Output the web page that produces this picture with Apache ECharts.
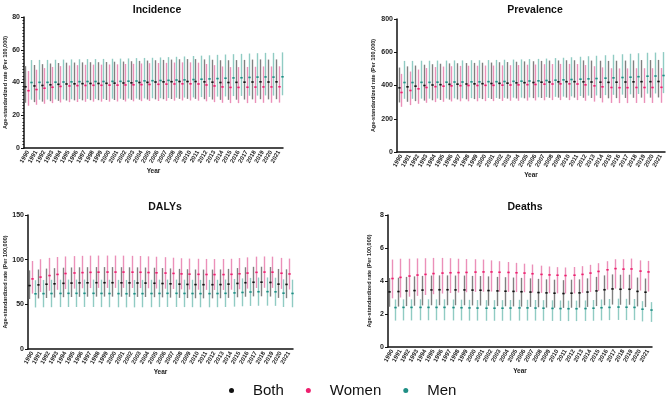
<!DOCTYPE html>
<html>
<head>
<meta charset="utf-8">
<script src="https://cdn.jsdelivr.net/npm/echarts/dist/echarts.min.js"></script>
<style>
  html, body { margin: 0; padding: 0; background: #fff; }
  #container { width: 669px; height: 396px; }
</style>
</head>
<body>
<div id="container"></div>
<script>
var years = [];
for (var y = 1990; y <= 2021; y++) years.push(String(y));

// Incidence
var incBothMean = [37.4,37.9,38.2,38.6,38.9,39.1,39.2,39.3,39.4,39.4,39.5,39.6,39.7,39.8,40.0,40.1,40.3,40.4,40.5,40.6,40.6,40.6,40.4,40.2,40.0,40.0,40.1,40.2,40.3,40.4,40.3,40.4];
var incBothHi = [50.0,50.7,51.2,51.6,51.9,52.1,52.2,52.3,52.4,52.4,52.5,52.7,52.8,53.0,53.2,53.4,53.6,53.8,54.0,54.2,54.3,54.3,54.1,53.9,53.6,53.6,53.7,53.8,54.0,54.1,54.0,54.1];
var incBothLo = [27.6,28.0,28.3,28.6,28.8,29.0,29.1,29.1,29.2,29.2,29.3,29.3,29.4,29.4,29.5,29.6,29.7,29.8,29.9,30.0,30.0,30.0,29.8,29.6,29.4,29.4,29.5,29.6,29.7,29.8,29.7,29.8];
var incWomenMean = [35.0,35.7,36.5,37.1,37.6,37.9,38.1,38.2,38.3,38.3,38.4,38.4,38.5,38.6,38.7,38.8,38.9,39.0,39.1,39.2,39.2,39.1,38.5,37.9,37.3,37.0,37.0,37.1,37.2,37.3,37.3,37.4];
var incWomenHi = [47.0,47.8,48.8,49.5,50.0,50.4,50.6,50.8,50.9,50.9,51.0,51.1,51.3,51.4,51.6,51.8,51.9,52.0,52.2,52.3,52.3,52.1,51.3,50.6,49.8,49.4,49.4,49.5,49.6,49.8,49.8,49.9];
var incWomenLo = [25.8,26.4,27.0,27.4,27.8,28.0,28.1,28.2,28.3,28.3,28.3,28.4,28.4,28.5,28.6,28.7,28.7,28.8,28.9,29.0,29.0,28.9,28.5,28.0,27.6,27.4,27.4,27.4,27.5,27.6,27.6,27.7];
var incMenMean = [40.0,40.1,40.1,40.2,40.3,40.4,40.5,40.6,40.6,40.6,40.7,40.7,40.8,40.9,41.0,41.1,41.2,41.3,41.5,41.6,41.8,42.0,42.2,42.4,42.6,42.8,42.9,43.1,43.3,43.4,43.3,43.5];
var incMenHi = [53.7,53.8,53.8,53.9,54.0,54.1,54.2,54.3,54.3,54.4,54.5,54.6,54.7,54.9,55.0,55.1,55.3,55.5,55.7,55.9,56.2,56.4,56.6,56.9,57.1,57.3,57.5,57.7,57.9,58.1,58.1,58.4];
var incMenLo = [29.5,29.5,29.6,29.7,29.7,29.8,29.9,30.0,30.0,30.0,30.1,30.1,30.2,30.2,30.3,30.4,30.4,30.5,30.7,30.8,30.9,31.1,31.2,31.4,31.5,31.7,31.8,31.9,32.0,32.1,32.0,32.2];

// Prevalence
var prvBothMean = [386,392,396,400,403,405,407,408,409,410,411,412,413,414,416,417,418,420,421,422,423,423,422,421,420,419,420,421,422,423,423,424];
var prvBothHi = [508,515,520,525,528,531,533,534,535,536,537,538,540,541,543,545,546,548,550,551,552,552,551,550,549,548,549,550,551,553,553,554];
var prvBothLo = [298,302,306,309,311,313,315,316,317,318,318,319,320,321,322,323,324,325,326,327,327,327,326,325,324,323,324,325,326,327,327,328];
var prvWomenMean = [358,370,380,388,393,396,398,399,400,400,401,401,402,403,404,405,406,408,409,410,410,409,404,398,392,388,387,387,388,388,388,389];
var prvWomenHi = [470,484,496,505,511,514,516,518,519,519,520,520,521,522,523,525,526,528,529,530,530,529,523,516,509,504,503,503,504,504,504,505];
var prvWomenLo = [272,282,290,296,300,302,304,305,305,305,306,306,307,308,308,309,310,311,312,312,312,312,308,303,298,295,294,294,295,295,295,296];
var prvMenMean = [418,418,419,419,420,420,421,421,422,422,423,423,424,425,426,427,428,430,432,434,436,438,440,442,444,446,448,450,453,456,457,460];
var prvMenHi = [548,548,549,549,550,550,551,551,552,552,553,554,555,556,557,559,560,562,565,567,570,573,576,579,582,585,588,591,594,597,598,601];
var prvMenLo = [320,320,321,321,322,322,323,323,324,324,325,325,326,327,327,328,329,330,332,333,335,337,339,340,342,344,345,347,349,351,352,354];

// DALYs
var dalBothMean = [71.0,71.8,72.5,73.0,73.5,73.8,74.0,74.1,74.2,74.2,74.2,74.1,74.0,73.9,73.8,73.6,73.3,73.0,72.6,72.3,72.1,72.0,72.0,72.1,72.6,73.4,74.2,74.7,74.8,74.5,72.6,72.3];
var dalBothHi = [88.0,89.0,90.0,90.5,91.0,91.3,91.5,91.6,91.7,91.7,91.7,91.6,91.5,91.4,91.2,91.0,90.6,90.2,89.7,89.3,89.0,88.9,88.9,89.1,89.7,90.6,91.5,92.0,92.1,91.8,89.6,89.2];
var dalBothLo = [56.0,56.6,57.1,57.6,58.0,58.2,58.4,58.5,58.6,58.6,58.6,58.5,58.4,58.3,58.2,58.0,57.8,57.5,57.2,57.0,56.8,56.7,56.7,56.8,57.2,57.9,58.5,58.9,59.0,58.7,57.2,56.9];
var dalWomenMean = [78.5,80.5,82.2,83.5,84.5,85.1,85.5,85.8,86.0,86.1,86.1,86.1,86.0,85.9,85.6,85.3,85.0,84.6,84.1,83.8,83.6,83.4,83.3,83.3,83.6,84.2,85.0,85.8,86.1,86.0,84.8,84.0];
var dalWomenHi = [98.5,100.5,102.0,103.0,103.6,104.0,104.3,104.5,104.6,104.6,104.6,104.5,104.3,104.1,103.7,103.3,102.8,102.2,101.6,101.2,101.0,100.8,100.7,100.7,101.0,101.8,102.6,103.4,103.6,103.4,102.0,101.2];
var dalWomenLo = [62.0,63.8,65.2,66.3,67.1,67.6,68.0,68.2,68.4,68.4,68.4,68.4,68.3,68.2,68.0,67.7,67.5,67.2,66.8,66.6,66.4,66.2,66.1,66.1,66.4,66.9,67.6,68.3,68.5,68.4,67.3,66.6];
var dalMenMean = [61.8,62.0,62.1,62.2,62.3,62.3,62.3,62.3,62.2,62.1,62.0,61.9,61.9,62.0,62.1,62.2,62.3,62.3,62.2,62.1,62.0,62.0,62.1,62.3,62.8,63.3,63.8,64.1,64.2,64.0,62.5,62.2];
var dalMenHi = [77.0,77.3,77.5,77.6,77.7,77.7,77.7,77.7,77.6,77.5,77.4,77.3,77.3,77.4,77.5,77.6,77.7,77.7,77.6,77.5,77.4,77.4,77.5,77.8,78.4,79.0,79.6,80.0,80.1,79.8,78.0,77.6];
var dalMenLo = [46.5,46.7,46.8,46.9,47.0,47.0,47.0,47.0,46.9,46.8,46.7,46.6,46.6,46.7,46.8,46.9,47.0,47.0,46.9,46.8,46.7,46.7,46.8,47.0,47.4,47.8,48.2,48.4,48.5,48.3,47.0,46.7];

// Deaths
var deaBothMean = [3.34,3.36,3.40,3.42,3.45,3.46,3.47,3.47,3.46,3.46,3.45,3.44,3.42,3.40,3.38,3.37,3.35,3.33,3.30,3.28,3.26,3.24,3.26,3.28,3.33,3.40,3.47,3.52,3.50,3.50,3.37,3.32];
var deaBothHi = [4.18,4.20,4.25,4.28,4.31,4.33,4.34,4.34,4.33,4.33,4.31,4.30,4.28,4.25,4.23,4.21,4.19,4.16,4.13,4.10,4.08,4.05,4.08,4.10,4.16,4.25,4.34,4.40,4.38,4.38,4.21,4.15];
var deaBothLo = [2.44,2.45,2.48,2.50,2.52,2.53,2.53,2.53,2.53,2.53,2.52,2.51,2.50,2.48,2.47,2.46,2.45,2.43,2.41,2.39,2.38,2.37,2.38,2.39,2.43,2.48,2.53,2.57,2.56,2.56,2.46,2.42];
var deaWomenMean = [4.15,4.22,4.30,4.36,4.40,4.45,4.48,4.50,4.51,4.52,4.54,4.55,4.55,4.53,4.52,4.50,4.48,4.44,4.40,4.37,4.35,4.33,4.35,4.40,4.48,4.58,4.68,4.75,4.72,4.73,4.60,4.55];
var deaWomenHi = [5.30,5.35,5.35,5.37,5.38,5.40,5.40,5.38,5.35,5.33,5.32,5.30,5.25,5.20,5.15,5.10,5.05,5.00,4.93,4.88,4.84,4.82,4.85,4.90,4.98,5.08,5.20,5.32,5.32,5.36,5.25,5.22];
var deaWomenLo = [2.95,3.00,3.05,3.10,3.15,3.20,3.24,3.27,3.30,3.32,3.34,3.35,3.36,3.35,3.34,3.33,3.32,3.30,3.28,3.26,3.25,3.24,3.25,3.28,3.33,3.40,3.48,3.54,3.52,3.52,3.42,3.36];
var deaMenMean = [2.39,2.40,2.40,2.40,2.40,2.40,2.40,2.39,2.38,2.37,2.36,2.35,2.35,2.35,2.36,2.37,2.37,2.36,2.35,2.34,2.33,2.32,2.32,2.33,2.35,2.38,2.40,2.42,2.41,2.40,2.29,2.24];
var deaMenHi = [2.88,2.89,2.89,2.89,2.89,2.89,2.89,2.88,2.87,2.86,2.85,2.84,2.84,2.84,2.85,2.86,2.86,2.85,2.84,2.83,2.82,2.81,2.81,2.82,2.85,2.88,2.91,2.93,2.92,2.91,2.78,2.72];
var deaMenLo = [1.60,1.61,1.61,1.62,1.62,1.62,1.62,1.61,1.61,1.60,1.60,1.59,1.59,1.59,1.60,1.60,1.60,1.60,1.59,1.58,1.58,1.57,1.57,1.58,1.59,1.61,1.63,1.64,1.63,1.63,1.55,1.52];

var groups = ['Both', 'Women', 'Men'];
var barColors = ['#808080', '#eb90b9', '#90cbc3'];
var dotColors = ['#111111', '#ee1f6e', '#1f8f85'];
var offsets = [-0.32, 0, 0.32];

var panels = [
    { title: 'Incidence', max: 80, interval: 20, minor: true, xGap: 20,
      grid: { left: 24, top: 17, right: 386, bottom: 248 },
      sets: [[incBothMean, incBothLo, incBothHi], [incWomenMean, incWomenLo, incWomenHi], [incMenMean, incMenLo, incMenHi]] },
    { title: 'Prevalence', max: 800, interval: 200, minor: false, xGap: 17,
      grid: { left: 397, top: 19, right: 4, bottom: 244 },
      sets: [[prvBothMean, prvBothLo, prvBothHi], [prvWomenMean, prvWomenLo, prvWomenHi], [prvMenMean, prvMenLo, prvMenHi]] },
    { title: 'DALYs', max: 150, interval: 50, minor: false, xGap: 20,
      grid: { left: 28, top: 215, right: 376, bottom: 47 },
      sets: [[dalBothMean, dalBothLo, dalBothHi], [dalWomenMean, dalWomenLo, dalWomenHi], [dalMenMean, dalMenLo, dalMenHi]] },
    { title: 'Deaths', max: 8, interval: 2, minor: false, xGap: 21,
      grid: { left: 388, top: 215, right: 17, bottom: 49 },
      sets: [[deaBothMean, deaBothLo, deaBothHi], [deaWomenMean, deaWomenLo, deaWomenHi], [deaMenMean, deaMenLo, deaMenHi]] }
];

function makeRender(k) {
    return function (params, api) {
        var idx = api.value(0);
        var mid = api.coord([idx, api.value(1)]);
        var lo = api.coord([idx, api.value(2)]);
        var hi = api.coord([idx, api.value(3)]);
        var bw = api.size([1, 0])[0];
        var x = Math.round(mid[0] + offsets[k] * bw) + 0.5;
        return {
            type: 'group',
            children: [
                { type: 'line', shape: { x1: x, y1: hi[1], x2: x, y2: lo[1] },
                  style: { stroke: barColors[k], lineWidth: 1.4 } },
                { type: 'line', shape: { x1: x - 1.2, y1: mid[1], x2: x + 1.2, y2: mid[1] },
                  style: { stroke: dotColors[k], lineWidth: 1.6 } }
            ]
        };
    };
}

var grids = [], xAxes = [], yAxes = [], series = [], titles = [];
var titleX = [152, 530, 160, 520];
var titleY = [0, 0, 197, 197];

panels.forEach(function (p, i) {
    grids.push(p.grid);
    titles.push({
        text: p.title, left: titleX[i], top: titleY[i], textAlign: 'center',
        textStyle: { fontFamily: 'Liberation Sans', fontWeight: 'bold', fontSize: 10.5, color: '#111' }
    });
    xAxes.push({
        type: 'category', gridIndex: i, data: years,
        name: 'Year', nameLocation: 'middle', nameGap: p.xGap,
        nameTextStyle: { fontFamily: 'Liberation Sans', fontWeight: 'bold', fontSize: 6.5, color: '#222' },
        axisLine: { lineStyle: { color: '#111', width: 1.5 } },
        axisTick: { alignWithLabel: true, length: 3, lineStyle: { color: '#111' } },
        axisLabel: { interval: 0, rotate: 60, fontSize: 6, fontWeight: 'bold', color: '#222', margin: 3 },
        splitLine: { show: false }
    });
    yAxes.push({
        type: 'value', gridIndex: i, min: 0, max: p.max, interval: p.interval,
        name: 'Age-standardized rate (Per 100,000)', nameLocation: 'middle', nameGap: i === 1 ? 21 : 16,
        nameTextStyle: { fontFamily: 'Liberation Sans', fontWeight: 'bold', fontSize: 5.5, color: '#222' },
        axisLine: { show: true, lineStyle: { color: '#111', width: 1.5 } },
        axisTick: { show: true, length: 3, lineStyle: { color: '#111' } },
        minorTick: { show: p.minor, splitNumber: 10, length: 1.5, lineStyle: { color: '#111' } },
        axisLabel: { fontSize: 7, fontWeight: 'bold', color: '#222', margin: 4 },
        splitLine: { show: false }
    });
    p.sets.forEach(function (s, k) {
        var data = years.map(function (yr, j) { return [j, s[0][j], s[1][j], s[2][j]]; });
        series.push({
            name: groups[k], type: 'custom', xAxisIndex: i, yAxisIndex: i,
            renderItem: makeRender(k), data: data,
            itemStyle: { color: dotColors[k] },
            encode: { x: 0, y: [1, 2, 3] }
        });
    });
});

var myChart = echarts.init(document.getElementById('container'));
var option = {
    backgroundColor: '#fff',
    animation: false,
    title: titles,
    legend: {
        data: groups, left: 224, top: 378, icon: 'circle',
        itemWidth: 5, itemHeight: 5, itemGap: 22,
        textStyle: { fontFamily: 'Liberation Sans', fontSize: 15, color: '#111', padding: [0, 0, 0, 14] }
    },
    grid: grids,
    xAxis: xAxes,
    yAxis: yAxes,
    series: series
};
myChart.setOption(option);
</script>
</body>
</html>
